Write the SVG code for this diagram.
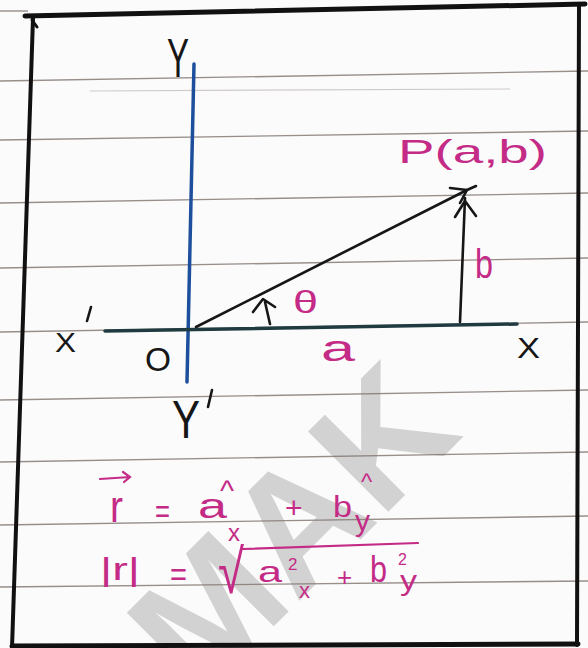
<svg xmlns="http://www.w3.org/2000/svg" width="588" height="648" viewBox="0 0 588 648">
  <defs>
    <style>
      .rule { stroke: #857a74; stroke-width: 1.4; fill: none; opacity: 0.85; }
      .border { stroke: #111; stroke-linecap: round; fill: none; }
      .ink { stroke: #161616; stroke-width: 2.6; fill: none; stroke-linecap: round; stroke-linejoin: round; }
      .lbl { font-family: "Liberation Sans", Arial, sans-serif; fill: #161616; }
      .pk { font-family: "Liberation Sans", Arial, sans-serif; fill: #c42b86; }
      .pkline { stroke: #c42b86; stroke-width: 2.2; fill: none; stroke-linecap: round; }
      .wm { font-family: "Liberation Sans", Arial, sans-serif; font-weight: bold; fill: #d2d2d2; }
    </style>
  </defs>

  <rect x="0" y="0" width="588" height="648" fill="#fbfbfb"/>

  <g id="watermark">
    <text class="wm" x="0" y="0" font-size="165" text-anchor="middle" transform="translate(332,568) rotate(-45)">MAK</text>
  </g>

  <g id="ruled-lines">
    <line class="rule" x1="0" y1="11" x2="28" y2="11"/>
    <line class="rule" x1="0" y1="81" x2="588" y2="71"/>
    <line x1="90" y1="91" x2="510" y2="89" stroke="#cfcac8" stroke-width="1.2"/>
    <line class="rule" x1="0" y1="140" x2="588" y2="131"/>
    <line class="rule" x1="0" y1="203" x2="588" y2="193"/>
    <line class="rule" x1="0" y1="268" x2="588" y2="258"/>
    <line class="rule" x1="0" y1="332" x2="588" y2="322"/>
    <line class="rule" x1="0" y1="400" x2="588" y2="390"/>
    <line class="rule" x1="0" y1="462" x2="588" y2="452"/>
    <line class="rule" x1="0" y1="525" x2="588" y2="516"/>
    <line class="rule" x1="0" y1="587" x2="588" y2="581"/>
  </g>

  <g id="frame">
    <line class="border" x1="25" y1="16" x2="585" y2="4" stroke-width="5"/>
    <line class="border" x1="33" y1="18" x2="12" y2="648" stroke-width="4"/>
    <path class="border" d="M32 20 L37 27" stroke-width="3"/>
    <line class="border" x1="579" y1="6" x2="577" y2="645" stroke-width="4"/>
    <line class="border" x1="12" y1="646" x2="578" y2="644" stroke-width="5"/>
  </g>

  <g id="y-axis">
    <line x1="194" y1="64" x2="187" y2="382" stroke="#1d4f9c" stroke-width="3.5" stroke-linecap="round"/>
    <text class="lbl" x="167" y="77" font-size="56" textLength="22" lengthAdjust="spacingAndGlyphs">Y</text>
    <text class="lbl" x="172" y="438" font-size="54" textLength="28" lengthAdjust="spacingAndGlyphs">Y</text>
    <line class="ink" x1="212" y1="390" x2="208" y2="407" stroke-width="3"/>
  </g>

  <g id="x-axis">
    <line x1="105" y1="331" x2="517" y2="324" stroke="#1f3b40" stroke-width="3.5" stroke-linecap="round"/>
    <text class="lbl" x="55" y="352" font-size="28" textLength="21" lengthAdjust="spacingAndGlyphs">X</text>
    <line class="ink" x1="91" y1="307" x2="87" y2="321" stroke-width="3"/>
    <text class="lbl" x="517" y="358" font-size="29" textLength="23" lengthAdjust="spacingAndGlyphs">X</text>
  </g>

  <g id="origin">
    <text class="lbl" x="145" y="371" font-size="33" textLength="26" lengthAdjust="spacingAndGlyphs">O</text>
  </g>

  <g id="point-P">
    <text class="pk" x="398" y="163" font-size="33" textLength="149" lengthAdjust="spacingAndGlyphs">P(a,b)</text>
  </g>

  <g id="connectors">
    <line class="ink" x1="196" y1="327" x2="467" y2="190"/>
    <path class="ink" d="M450 188 L467 190 L476 186 M467 190 L460 203"/>
    <line class="ink" x1="460" y1="322" x2="465" y2="198"/>
    <path class="ink" d="M455 217 L465 201 L476 216"/>
    <path class="ink" d="M270 324 L265 302 M253 312 L263 299 L275 307"/>
  </g>

  <g id="labels">
    <text class="pk" x="293" y="313" font-size="32" textLength="25" lengthAdjust="spacingAndGlyphs">θ</text>
    <text class="pk" x="475" y="278" font-size="41" textLength="18" lengthAdjust="spacingAndGlyphs">b</text>
    <text class="pk" x="321" y="361" font-size="37" textLength="34" lengthAdjust="spacingAndGlyphs">a</text>
  </g>

  <g id="formula-vector">
    <text class="pk" x="110" y="522" font-size="44" textLength="13" lengthAdjust="spacingAndGlyphs">r</text>
    <path class="pkline" d="M100 479 L130 477 M123 472 L130 477 L124 482"/>
    <text class="pk" x="155" y="523" font-size="34" textLength="15" lengthAdjust="spacingAndGlyphs">=</text>
    <text class="pk" x="198" y="518" font-size="35" textLength="29" lengthAdjust="spacingAndGlyphs">a</text>
    <text class="pk" x="220" y="501" font-size="30">^</text>
    <text class="pk" x="228" y="541" font-size="24">x</text>
    <text class="pk" x="285" y="518" font-size="30">+</text>
    <text class="pk" x="333" y="517" font-size="30" textLength="19" lengthAdjust="spacingAndGlyphs">b</text>
    <text class="pk" x="361" y="490" font-size="24">^</text>
    <text class="pk" x="355" y="531" font-size="30" textLength="15" lengthAdjust="spacingAndGlyphs">y</text>
  </g>

  <g id="formula-magnitude">
    <text class="pk" x="100" y="580" font-size="32" textLength="40" lengthAdjust="spacingAndGlyphs">|r|</text>
    <text class="pk" x="170" y="586" font-size="34" textLength="17" lengthAdjust="spacingAndGlyphs">=</text>
    <text class="pk" x="218" y="593" font-size="62" font-family="DejaVu Sans, sans-serif" textLength="26" lengthAdjust="spacingAndGlyphs">√</text>
    <line class="pkline" x1="243" y1="549" x2="418" y2="543"/>
    <text class="pk" x="258" y="582" font-size="30" textLength="24" lengthAdjust="spacingAndGlyphs">a</text>
    <text class="pk" x="288" y="570" font-size="17">2</text>
    <text class="pk" x="299" y="598" font-size="22">x</text>
    <text class="pk" x="337" y="586" font-size="26">+</text>
    <text class="pk" x="370" y="582" font-size="36" textLength="17" lengthAdjust="spacingAndGlyphs">b</text>
    <text class="pk" x="398" y="565" font-size="16">2</text>
    <text class="pk" x="400" y="590" font-size="28" textLength="17" lengthAdjust="spacingAndGlyphs">y</text>
  </g>
</svg>
